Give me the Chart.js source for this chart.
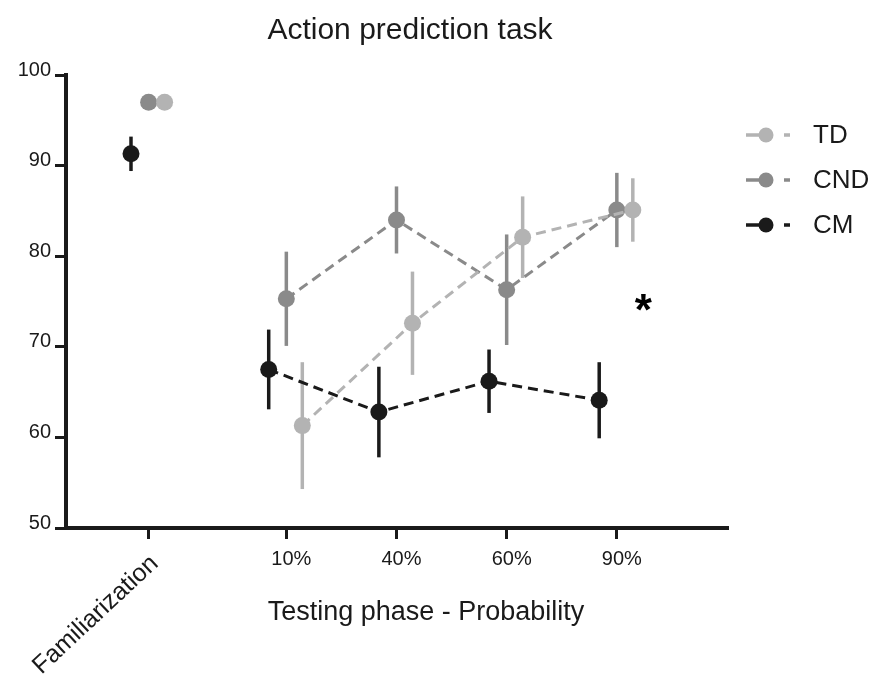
<!DOCTYPE html>
<html>
<head>
<meta charset="utf-8">
<script src="https://cdn.jsdelivr.net/npm/chart.js@4.4.0/dist/chart.umd.min.js"></script>
<style>
  html, body { margin: 0; padding: 0; background: #fff; }
  #wrap { width: 885px; height: 684px; }
</style>
</head>
<body>
<div id="wrap"><canvas id="chart" width="885" height="684"></canvas></div>
<script>
// categories and their positions on the x axis (gap after Familiarization)
const xLabels = ['Familiarization', '10%', '40%', '60%', '90%'];
const xPos = [-0.25, 1, 2, 3, 4];

const seriesNames = ['TD', 'CND', 'CM'];
const seriesColors = ['#b3b3b3', '#8a8a8a', '#1a1a1a'];
const seriesOffsets = [0.145, 0, -0.16];

// mean % correct
const tdMean = [97.0, 61.3, 72.6, 82.1, 85.1];
const cndMean = [97.0, 75.3, 84.0, 76.3, 85.1];
const cmMean = [91.3, 67.5, 62.8, 66.2, 64.1];

// error bar half-lengths
const tdErr = [0, 7.0, 5.7, 4.5, 3.5];
const cndErr = [0, 5.2, 3.7, 6.1, 4.1];
const cmErr = [1.9, 4.4, 5.0, 3.5, 4.2];

const yTicks = [50, 60, 70, 80, 90, 100];

const means = [tdMean, cndMean, cmMean];
const errs = [tdErr, cndErr, cmErr];

const FONT = '"Liberation Sans", Arial, Helvetica, sans-serif';
const AXIS = '#1a1a1a';

const datasets = seriesNames.map((name, i) => ({
  label: name,
  data: means[i].map((v, j) => ({ x: xPos[j] + seriesOffsets[i], y: v })),
  borderColor: seriesColors[i],
  backgroundColor: seriesColors[i],
  pointBackgroundColor: seriesColors[i],
  pointBorderWidth: 0,
  pointRadius: 8.5,
  borderWidth: 3,
  borderDash: [10, 6],
  tension: 0,
  // no line from Familiarization to the testing phase
  segment: { borderColor: ctx => ctx.p0DataIndex === 0 ? 'rgba(0,0,0,0)' : seriesColors[i] }
}));

const overlay = {
  id: 'overlay',
  beforeDatasetsDraw(chart) {
    const { ctx, scales: { x, y } } = chart;
    ctx.save();
    ctx.lineWidth = 3.5;
    ctx.lineCap = 'butt';
    seriesNames.forEach((_, i) => {
      ctx.strokeStyle = seriesColors[i];
      means[i].forEach((m, j) => {
        const e = errs[i][j];
        if (!e) return;
        const px = x.getPixelForValue(xPos[j] + seriesOffsets[i]);
        ctx.beginPath();
        ctx.moveTo(px, y.getPixelForValue(m + e));
        ctx.lineTo(px, y.getPixelForValue(m - e));
        ctx.stroke();
      });
    });
    ctx.restore();
  },
  afterDraw(chart) {
    const { ctx, scales: { x, y } } = chart;
    ctx.save();
    ctx.fillStyle = AXIS;

    // title
    ctx.font = '30px ' + FONT;
    ctx.textAlign = 'center';
    ctx.textBaseline = 'alphabetic';
    ctx.fillText('Action prediction task', 410, 39);

    // axis title
    ctx.font = '27px ' + FONT;
    ctx.fillText('Testing phase - Probability', 426, 620);

    // rotated Familiarization tick label
    ctx.save();
    ctx.translate(x.getPixelForValue(xPos[0]) + 6, 560);
    ctx.rotate(-43 * Math.PI / 180);
    ctx.font = '25px ' + FONT;
    ctx.textAlign = 'right';
    ctx.textBaseline = 'middle';
    ctx.fillText(xLabels[0], 0, 0);
    ctx.restore();

    // legend: line + point + text
    const rows = [135, 180, 225];
    seriesNames.forEach((name, i) => {
      const ly = rows[i];
      ctx.strokeStyle = seriesColors[i];
      ctx.fillStyle = seriesColors[i];
      ctx.lineWidth = 3.5;
      ctx.beginPath();
      ctx.moveTo(746, ly); ctx.lineTo(764, ly);
      ctx.moveTo(784, ly); ctx.lineTo(790, ly);
      ctx.stroke();
      ctx.beginPath();
      ctx.arc(766, ly, 7.5, 0, Math.PI * 2);
      ctx.fill();
      ctx.fillStyle = AXIS;
      ctx.font = '26px ' + FONT;
      ctx.textAlign = 'left';
      ctx.textBaseline = 'middle';
      ctx.fillText(name, 813, ly + 1);
    });

    // significance mark at 90%
    const sx = x.getPixelForValue(4.24);
    const sy = y.getPixelForValue(75.2);
    ctx.font = 'bold 44px ' + FONT;
    ctx.textAlign = 'center';
    ctx.textBaseline = 'alphabetic';
    ctx.fillStyle = '#000';
    ctx.fillText('*', sx, sy + 25);
    ctx.restore();
  }
};

new Chart(document.getElementById('chart'), {
  type: 'line',
  data: { datasets },
  plugins: [overlay],
  options: {
    responsive: false,
    animation: false,
    layout: { padding: { top: 75, right: 158, left: 0, bottom: 0 } },
    plugins: { legend: { display: false }, tooltip: { enabled: false } },
    scales: {
      x: {
        type: 'linear',
        min: -1,
        max: 5,
        afterFit: s => { s.height = 156; },
        afterBuildTicks: s => { s.ticks = xPos.map(v => ({ value: v })); },
        border: { display: true, color: AXIS, width: 4 },
        grid: { drawOnChartArea: false, drawTicks: true, tickLength: 11, color: AXIS, lineWidth: 3 },
        ticks: {
          color: AXIS,
          font: { family: FONT, size: 20 },
          padding: 8,
          labelOffset: 5,
          maxRotation: 0,
          minRotation: 0,
          autoSkip: false,
          callback: v => { const k = xPos.indexOf(v); return k > 0 ? xLabels[k] : ''; }
        }
      },
      y: {
        min: 50,
        max: 100,
        afterFit: s => { s.width = 66; },
        afterBuildTicks: s => { s.ticks = yTicks.map(v => ({ value: v })); },
        border: { display: true, color: AXIS, width: 4 },
        grid: { drawOnChartArea: false, drawTicks: true, tickLength: 11, color: AXIS, lineWidth: 3 },
        ticks: {
          color: AXIS,
          font: { family: FONT, size: 20 },
          padding: 4,
          labelOffset: -5
        }
      }
    }
  }
});
</script>
</body>
</html>
